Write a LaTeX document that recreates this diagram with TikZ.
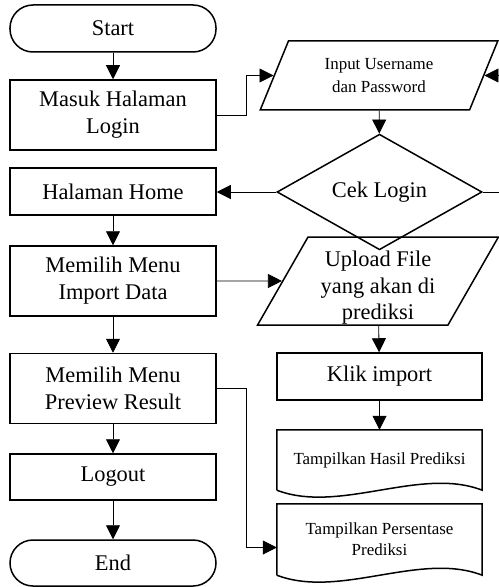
\documentclass[tikz,border=0pt]{standalone}
\usepackage{fontspec}
\setmainfont{Liberation Serif}
\usetikzlibrary{shapes.geometric, arrows.meta, positioning, calc}
\tikzset{
    startstop/.style={rectangle, rounded corners=23bp, draw, line width=1.5bp, minimum width=206bp, minimum height=47bp, align=center, font=\fontsize{22.5}{27}\selectfont},
    process/.style={rectangle, draw, line width=1.5bp, minimum width=206bp, minimum height=70bp, align=center, font=\fontsize{22.5}{27}\selectfont},
    io/.style={trapezium, trapezium left angle=64.5, trapezium right angle=115.5, trapezium stretches=true, draw, line width=1.5bp, minimum width=238bp, minimum height=69bp, align=center, inner sep=1bp},
    decision/.style={diamond, draw, line width=1.5bp, minimum width=205bp, minimum height=70bp, inner sep=0bp, align=center, font=\fontsize{22.5}{27}\selectfont},
    docbox/.style={rectangle, minimum width=205bp, align=center, font=\fontsize{17}{21}\selectfont},
    docline/.style={line width=1.5bp},
    arrow/.style={line width=0.8bp, -{Triangle[length=14bp, width=14bp]}}
}
\begin{document}
\begin{tikzpicture}[x=1bp, y=-1bp]
    \useasboundingbox (0,0) rectangle (499,587);
    % left column
    \node[startstop] (start) at (113,28.5) {Start};
    \node[process] (login) at (113,115) {Masuk Halaman\\Login};
    \node[process, minimum height=47bp] (home) at (113,191.5) {Halaman Home};
    \node[process] (import) at (113,281) {Memilih Menu\\Import Data};
    \node[process] (preview) at (113,388.5) {Memilih Menu\\Preview Result};
    \node[process, minimum height=46bp] (logout) at (113,477) {Logout};
    \node[startstop, minimum height=46bp] (stop) at (113,563) {End};
    % right column
    \node[io, font=\fontsize{17}{23}\selectfont] (input) at (379,75.5) {Input Username\\dan Password};
    \node[decision] (cek) at (379.5,192) {Cek Login};
    \node[io, minimum width=241bp, minimum height=88bp, inner sep=0bp, font=\fontsize{22.5}{26.5}\selectfont] (upload) at (378,281) {\rule{0pt}{29bp}Upload File\\yang akan di\\prediksi};
    \node[process, minimum width=205bp, minimum height=47bp] (klik) at (379.5,376.5) {Klik import};
    \node[docbox, minimum height=60bp] (hasil) at (379.5,460) {Tampilkan Hasil Prediksi};
    \node[docbox, minimum height=71bp] (persen) at (379.5,539.5) {Tampilkan Persentase\\Prediksi};
    \draw[docline] (hasil.south west) -- (hasil.north west) -- (hasil.north east) -- (hasil.south east)
        .. controls +(-62,-24) and +(63,24) .. (hasil.south west);
    \draw[docline] (persen.south west) -- (persen.north west) -- (persen.north east) -- (persen.south east)
        .. controls +(-62,-24) and +(63,24) .. (persen.south west);
    % connectors
    \draw[arrow] (start) -- (login);
    \draw[arrow] (home) -- (import);
    \draw[arrow] (import) -- (preview);
    \draw[arrow] (preview) -- (logout);
    \draw[arrow] (logout) -- (stop);
    \draw[arrow] (login.east) -- ++(30,0) |- (input);
    \draw[arrow] (input) -- (cek);
    \draw[arrow] (cek.west) -- (home.east |- cek.west);
    \draw[arrow] (cek.east) -- ++(25,0) |- (input);
    \draw[arrow] (import) -- (upload);
    \draw[arrow] (upload) -- (klik);
    \draw[arrow] (klik) -- (hasil);
    \draw[arrow] (preview.east) -- ++(30,0) |- ($(persen.west)+(0,8)$);
\end{tikzpicture}
\end{document}
